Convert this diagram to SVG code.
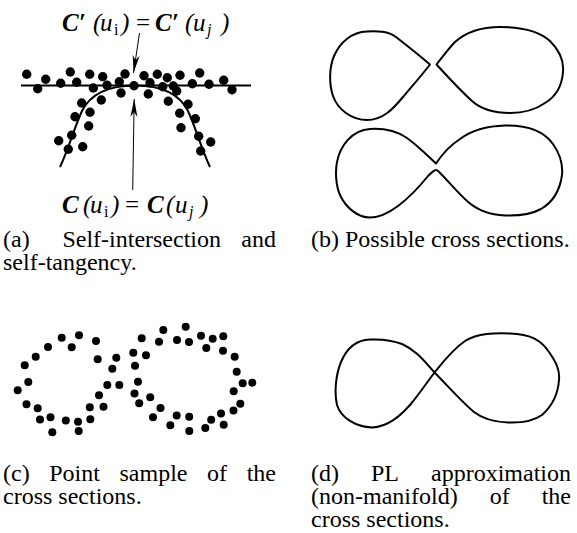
<svg xmlns="http://www.w3.org/2000/svg" width="577" height="533" viewBox="0 0 577 533">
<style>
.cap{font-family:"Liberation Serif","Times New Roman",serif;font-size:24px;fill:#000}
.end{text-anchor:end}
.lab{font-family:"Liberation Serif","Times New Roman",serif;font-size:25px;font-style:italic;fill:#000}
.b{font-weight:bold}
.up{font-style:normal}
.sub{font-size:16px}
.curve{fill:none;stroke:#000;stroke-width:2;stroke-linejoin:round}
.thin{fill:none;stroke:#000;stroke-width:1}
.da circle{r:4.7px;fill:#000}
.dc circle{r:4px;fill:#000}
</style>
<defs>
<marker id="ah" viewBox="-19 -4 20 8" refX="0" refY="0" markerWidth="20" markerHeight="8" markerUnits="userSpaceOnUse" orient="auto">
<path d="M0,0 L-18,-3.5 L-13,0 L-18,3.5 Z" fill="#000"/>
</marker>
</defs>
<rect width="577" height="533" fill="#fff"/>

<g id="panel-a">
<line class="curve" x1="21" y1="85.5" x2="251" y2="85.5"/>
<path class="curve" d="M60,167 C68,150 75,126 82,111 C90,95 108,85.5 135,85.5 C162,85.5 180,95 188,111 C195,126 202,150 210,167"/>
<g class="da">
<circle cx="26.7" cy="74.3"/><circle cx="45.7" cy="79.3"/><circle cx="37.7" cy="88.7"/><circle cx="60.7" cy="83.3"/>
<circle cx="70.3" cy="72"/><circle cx="76.7" cy="82.3"/><circle cx="89.7" cy="74.3"/><circle cx="102.7" cy="76.7"/>
<circle cx="93.3" cy="88"/><circle cx="107" cy="85.3"/><circle cx="119.3" cy="81.7"/><circle cx="125" cy="74"/>
<circle cx="134" cy="85.7"/><circle cx="121" cy="93"/><circle cx="101.3" cy="100"/><circle cx="81.7" cy="103"/>
<circle cx="90" cy="112.3"/><circle cx="75" cy="116.7"/><circle cx="88.7" cy="126"/><circle cx="71.7" cy="135.3"/>
<circle cx="58.7" cy="140.7"/><circle cx="68.3" cy="149.3"/><circle cx="82.7" cy="146.7"/>
<circle cx="144" cy="75.7"/><circle cx="157.3" cy="74.3"/><circle cx="167.3" cy="77.7"/><circle cx="150" cy="82.7"/>
<circle cx="148.3" cy="94"/><circle cx="162.7" cy="86.7"/><circle cx="173.3" cy="86"/><circle cx="176.7" cy="91"/>
<circle cx="180" cy="75.3"/><circle cx="199.7" cy="73"/><circle cx="192.3" cy="83.7"/><circle cx="209" cy="84.3"/>
<circle cx="223.7" cy="80.3"/><circle cx="232" cy="89.7"/><circle cx="168.3" cy="101.3"/><circle cx="188" cy="104.3"/>
<circle cx="179.7" cy="113.3"/><circle cx="195.3" cy="118.7"/><circle cx="181" cy="127.7"/><circle cx="198.7" cy="136.3"/>
<circle cx="210.7" cy="142"/><circle cx="200.7" cy="151"/>
</g>
<text class="lab" y="31"><tspan class="b" x="62">C′</tspan><tspan x="93">(</tspan><tspan x="100">u</tspan><tspan class="sub up" x="114" y="35">i</tspan><tspan x="121" y="31">)</tspan><tspan class="up" x="136">=</tspan><tspan class="b" x="155">C′</tspan><tspan x="185">(</tspan><tspan x="193">u</tspan><tspan class="sub" x="207" y="35">j</tspan><tspan x="221" y="31">)</tspan></text>
<text class="lab" y="213"><tspan class="b" x="62">C</tspan><tspan x="83">(</tspan><tspan x="90">u</tspan><tspan class="sub up" x="104" y="217">i</tspan><tspan x="111" y="213">)</tspan><tspan class="up" x="125">=</tspan><tspan class="b" x="147">C</tspan><tspan x="166">(</tspan><tspan x="175">u</tspan><tspan class="sub" x="189" y="217">j</tspan><tspan x="200" y="213">)</tspan></text>
</g>

<g id="connectors">
<line class="thin" x1="139.5" y1="33" x2="133.5" y2="73" marker-end="url(#ah)"/>
<line class="thin" x1="132.7" y1="190" x2="134.2" y2="99" marker-end="url(#ah)"/>
</g>

<g id="panel-b">
<path class="curve" d="M430,64.5 C420,56 405,44 396,37 C388,31 378,31 367,31.5 C352,32 340,42 334,56 C329,68 329,84 333,96 C338,110 352,120 367,120 C383,120 393,109 403,97 C413,85 422,75 430,64.5 Z"/>
<path class="curve" d="M436.5,64.5 C443,56 450,47 455,42 C465,33 480,27 500,27 C520,27 538,30 550,41 C560,51 564,62 563,72 C562,86 555,97 545,103 C535,110 522,113 510,113 C495,113 482,110 472,101 C460,90 447,76 436.5,64.5 Z"/>
<path class="curve" d="M436,163.5 C441,156 449,146 460,139 C472,130 487,126 505,125.5 C525,125 543,130 553,144 C560,154 563,165 562,175 C560,190 553,202 541,209 C530,215 518,216 505,215.5 C490,215 477,210 467,201 C457,192 448,181 442,175 C439,172 438,170 436,170 C434,170 431,173 428,176 C420,186 410,197 398,206 C390,212 380,217.5 370,217.5 C358,217.5 346,208 340,195 C336,186 335,172 337,162 C340,146 352,130 370,129 C386,128 398,132 407,138 C418,146 428,156 436,163.5 Z"/>
</g>

<g id="panel-c" class="dc">
<circle cx="61.7" cy="337.7"/><circle cx="79" cy="335.3"/><circle cx="96" cy="341"/><circle cx="48" cy="347"/>
<circle cx="71.7" cy="347.3"/><circle cx="35.7" cy="356.7"/><circle cx="24.7" cy="365.3"/><circle cx="97.7" cy="359.3"/>
<circle cx="116.3" cy="357.7"/><circle cx="112.3" cy="368.7"/><circle cx="28.3" cy="382"/><circle cx="17.7" cy="390.3"/>
<circle cx="107.3" cy="385"/><circle cx="119.3" cy="385"/><circle cx="99" cy="395.3"/><circle cx="26.5" cy="404.2"/>
<circle cx="37.7" cy="408.2"/><circle cx="89.8" cy="407.2"/><circle cx="103.5" cy="406.8"/><circle cx="40" cy="419.5"/>
<circle cx="50.5" cy="417.3"/><circle cx="65.8" cy="420.5"/><circle cx="78" cy="421.8"/><circle cx="90.3" cy="419.3"/>
<circle cx="52.3" cy="432.3"/><circle cx="78.7" cy="431"/>
<circle cx="163.3" cy="330"/><circle cx="185.7" cy="326.7"/><circle cx="141.7" cy="338.3"/><circle cx="159" cy="341.7"/>
<circle cx="177" cy="340"/><circle cx="189" cy="342"/><circle cx="201" cy="335.7"/><circle cx="212.7" cy="338.7"/>
<circle cx="223.3" cy="336.3"/><circle cx="206.3" cy="348"/><circle cx="223" cy="350.7"/><circle cx="133.3" cy="352.7"/>
<circle cx="146" cy="355.3"/><circle cx="234.7" cy="356.7"/><circle cx="135" cy="365.7"/><circle cx="236.7" cy="371.7"/>
<circle cx="138" cy="381.7"/><circle cx="242.7" cy="383.3"/><circle cx="252.3" cy="382.7"/><circle cx="134.5" cy="393.5"/>
<circle cx="233.7" cy="391.3"/><circle cx="150.2" cy="397.3"/><circle cx="139.2" cy="403.3"/><circle cx="240.3" cy="403.8"/>
<circle cx="160.5" cy="408"/><circle cx="233.5" cy="410.5"/><circle cx="221" cy="413.5"/><circle cx="153" cy="417.3"/>
<circle cx="176.7" cy="415.5"/><circle cx="189.2" cy="416.8"/><circle cx="211.2" cy="419.7"/><circle cx="170.3" cy="425.2"/>
<circle cx="223.7" cy="424.7"/><circle cx="205.3" cy="428"/><circle cx="189.3" cy="431"/>
</g>

<g id="panel-d">
<path class="curve" d="M434.5,372.5 C425,362 416,350 402,344 C392,340 382,339 370,339.5 C355,340 346,350 341,362 C336,374 334,392 337,405 C341,418 356,427 372,427.5 C388,427 400,416 410,405 C420,393 428,381 434.5,372.5 C443,362 452,350 465,341 C478,333 495,333 510,333.5 C530,334 541,340 549,352 C556,362 560,370 559,380 C558,395 552,406 542,415 C532,422 520,423 508,422.5 C494,422 483,419 474,412 C462,402 447,385 434.5,372.5 Z"/>
</g>

<g id="captions">
<text class="cap" x="3" y="247">(a)</text>
<text class="cap" x="62.4" y="247">Self-intersection</text>
<text class="cap end" x="276" y="247">and</text>
<text class="cap" x="3" y="270">self-tangency.</text>
<text class="cap" x="311" y="247">(b) Possible cross sections.</text>
<text class="cap" x="3" y="481">(c)</text>
<text class="cap" x="49.2" y="481">Point</text>
<text class="cap" x="119.5" y="481">sample</text>
<text class="cap" x="207.1" y="481">of</text>
<text class="cap end" x="276" y="481">the</text>
<text class="cap" x="3" y="504">cross sections.</text>
<text class="cap" x="311" y="481">(d)</text>
<text class="cap" x="371" y="481">PL</text>
<text class="cap end" x="571" y="481">approximation</text>
<text class="cap" x="311" y="504">(non-manifold)</text>
<text class="cap" x="489.7" y="504">of</text>
<text class="cap end" x="571" y="504">the</text>
<text class="cap" x="311" y="527">cross sections.</text>
</g>
</svg>
